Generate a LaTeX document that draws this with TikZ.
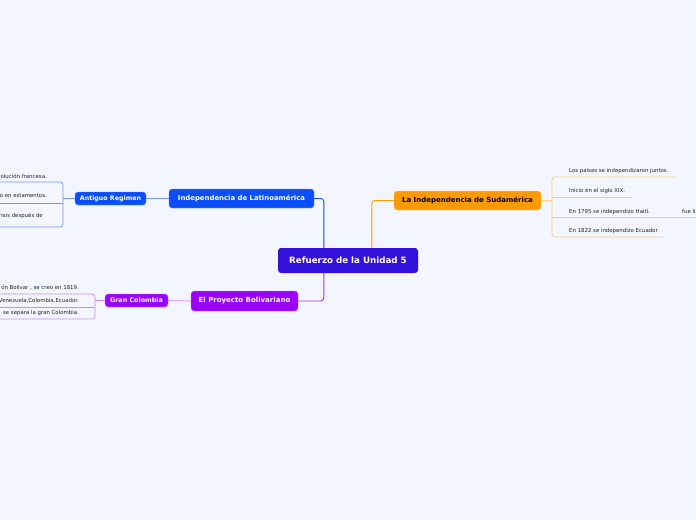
\documentclass[tikz,border=0pt]{standalone}
\usepackage{fontspec}
\setmainfont{DejaVu Sans}
\usetikzlibrary{calc}
\definecolor{bg}{HTML}{F3F6FE}
\definecolor{cmain}{HTML}{3410DB}
\definecolor{cblue}{HTML}{0A4DFA}
\definecolor{cbluelt}{HTML}{7096FF}
\definecolor{cpurp}{HTML}{9A00FF}
\definecolor{cpurplt}{HTML}{C98AFF}
\definecolor{corange}{HTML}{FF9A00}
\definecolor{corangelt}{HTML}{FFC980}
\definecolor{txt}{HTML}{222222}
\tikzset{
  box/.style={rounded corners=3pt, inner sep=0pt, font=\bfseries},
  leaf/.style={font=\fontsize{5.4}{6}\selectfont, text=txt, inner sep=0pt},
  ln/.style={line width=0.9pt, rounded corners=3pt},
  lnlt/.style={line width=0.7pt, rounded corners=3pt},
}
\begin{document}
\begin{tikzpicture}[x=1pt,y=-1pt]
\fill[bg] (0,0) rectangle (696,520);
\useasboundingbox (0,0) rectangle (696,520);
\clip (0,0) rectangle (696,520);

% main nodes
\node[box, fill=cmain, text=white, minimum width=140pt, minimum height=25pt, font=\bfseries\fontsize{8.7}{9}\selectfont] (central) at (348,260.5) {Refuerzo de la Unidad 5};
\node[box, fill=cblue, draw=cbluelt, line width=0.4pt, text=white, minimum width=145pt, minimum height=19pt, font=\bfseries\fontsize{6.9}{7}\selectfont] (latino) at (241.5,198.5) {Independencia de Latinoamérica};
\node[box, fill=cblue, draw=cbluelt, line width=0.4pt, text=white, minimum width=71pt, minimum height=13pt, font=\bfseries\fontsize{6.3}{7}\selectfont] (antiguo) at (110.5,198.5) {Antiguo Regimen};
\node[box, fill=cpurp, draw=cpurplt, line width=0.4pt, text=white, minimum width=107pt, minimum height=20pt, font=\bfseries\fontsize{7}{7}\selectfont] (boli) at (244.5,301) {El Proyecto Bolivariano};
\node[box, fill=cpurp, draw=cpurplt, line width=0.4pt, text=white, minimum width=63pt, minimum height=13pt, font=\bfseries\fontsize{6.4}{7}\selectfont] (gran) at (136.5,300.5) {Gran Colombia};
\node[box, fill=corange, draw=corangelt, line width=0.4pt, text=black, minimum width=147pt, minimum height=19pt, font=\bfseries\fontsize{7}{7}\selectfont] (sud) at (467.5,200.5) {La Independencia de Sudamérica};

% main connectors
\draw[ln, cblue] ([xshift=46pt]central.north west) |- (latino.east);
\draw[ln, cpurp!80] ([xshift=46pt]central.south west) |- (boli.east);
\draw[ln, corange] ([xshift=94pt]central.north west) -- ([xshift=94pt]central.north west |- sud.west) -- (sud.west);
\draw[lnlt, cbluelt] (latino.west) -- (antiguo.east);
\draw[lnlt, cpurplt] (boli.west) -- (gran.east);

% Antiguo Regimen children
\coordinate (a1l) at (0,182); \coordinate (a1r) at (63,182);
\coordinate (a2l) at (0,203); \coordinate (a2r) at (63,203);
\coordinate (a3l) at (0,227); \coordinate (a3r) at (63,227);
\draw[lnlt, cbluelt] (antiguo.west) -- (63,198.5);
\draw[lnlt, cbluelt] (a1l) -- (a1r) -- (a3r) -- (a3l);
\draw[lnlt, cbluelt] (a2l) -- (a2r);
\node[leaf, anchor=east] (t1) at (47,176.5) {olución francesa.};
\node[leaf, anchor=east] (t2) at (47,195.5) {o en estamentos.};
\node[leaf, anchor=east] (t3) at (43,215.5) {risis después de};

% Gran Colombia children
\coordinate (g1l) at (0,294); \coordinate (g1r) at (95,294);
\coordinate (g2l) at (0,307); \coordinate (g2r) at (95,307);
\coordinate (g3l) at (0,319); \coordinate (g3r) at (95,319);
\draw[lnlt, cpurplt] (gran.west) -- (95,300.5);
\draw[lnlt, cpurplt] (g1l) -- (g1r) -- (g3r) -- (g3l);
\draw[lnlt, cpurplt] (g2l) -- (g2r);
\node[leaf, anchor=east] (u1) at (79,287.5) {ón Bolivar , se creo en 1819.};
\node[leaf, anchor=east] (u2) at (79,301) {Venezuela,Colombia,Ecuador.};
\node[leaf, anchor=east] (u3) at (79,313.5) {se separa la gran Colombia.};

% Sudamerica children
\coordinate (s1l) at (552,177); \coordinate (s1r) at (675,177);
\coordinate (s2l) at (552,197); \coordinate (s2r) at (632,197);
\coordinate (s3l) at (552,217); \coordinate (s3r) at (696,217);
\coordinate (s4l) at (552,237); \coordinate (s4r) at (663,237);
\draw[lnlt, corangelt] (sud.east) -- (552,200.5);
\draw[lnlt, corangelt] (s1r) -- (s1l) -- (s4l) -- (s4r);
\draw[lnlt, corangelt] (s2l) -- (s2r);
\draw[lnlt, corangelt] (s3l) -- (s3r);
\node[leaf, anchor=west] (v1) at (569,171.5) {Los paises se independizaron juntos.};
\node[leaf, anchor=west] (v2) at (569,191.5) {Inicio en el siglo XIX.};
\node[leaf, anchor=west] (v3) at (569,211.5) {En 1795 se independizo Haití.};
\node[leaf, anchor=west] (v3b) at (682,211.5) {fue li};
\node[leaf, anchor=west] (v4) at (569,231.5) {En 1822 se independizo Ecuador};
\end{tikzpicture}
\end{document}
